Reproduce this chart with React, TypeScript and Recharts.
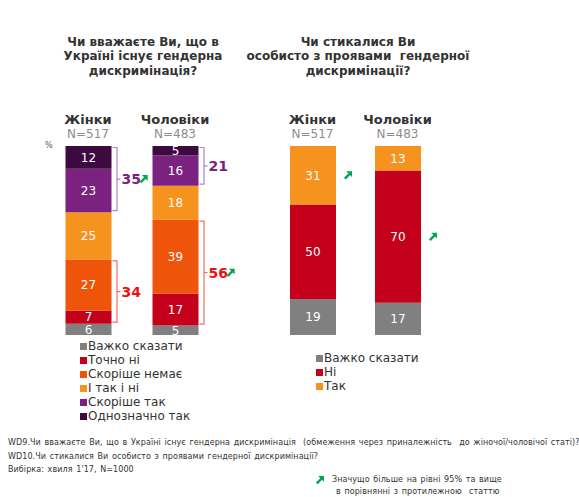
import React from "react";
import { BarChart, Bar, XAxis, YAxis, LabelList, Legend } from "recharts";

// ---------- data ----------
const groups = ["Жінки", "Чоловіки"];
const groupSizes = ["N=517", "N=483"];

const q1Title = ["Чи вважаєте Ви, що в", "Україні існує гендерна", "дискримінація?"];
const q2Title = ["Чи стикалися Ви", "особисто з проявами  гендерної", "дискримінації?"];

const q1Names = ["Важко сказати", "Точно ні", "Скоріше немає", "І так і ні", "Скоріше так", "Однозначно так"];
const q1HardToSay = [6, 5];
const q1DefinitelyNo = [7, 17];
const q1RatherNo = [27, 39];
const q1YesAndNo = [25, 18];
const q1RatherYes = [23, 16];
const q1DefinitelyYes = [12, 5];
const q1YesTotal = [35, 21];
const q1NoTotal = [34, 56];
const q1YesSignificant = [true, false];
const q1NoSignificant = [false, true];

const q2Names = ["Важко сказати", "Ні", "Так"];
const q2HardToSay = [19, 17];
const q2No = [50, 70];
const q2Yes = [31, 13];
const q2YesSignificant = [true, false];
const q2NoSignificant = [false, true];

const footnotes = [
  "WD9.Чи вважаєте Ви, що в Україні існує гендерна дискримінація  (обмеження через приналежність  до жіночої/чоловічої статі)?",
  "WD10.Чи стикалися Ви особисто з проявами гендерної дискримінації?",
  "Вибірка: хвиля 1'17, N=1000",
];
const sigNote = ["Значущо більше на рівні 95% та вище", "в порівнянні з протилежною  статтю"];

// ---------- styles ----------
const COLORS = {
  hard: "#808080",
  defNo: "#c4001a",
  ratherNo: "#ef550a",
  both: "#f6921e",
  ratherYes: "#7b2180",
  defYes: "#3d0a3f",
};
const FONT = "Verdana, 'DejaVu Sans', sans-serif";
const GREEN = "#00a651";

const q1Data = groups.map((g, i) => ({
  group: g,
  hard: q1HardToSay[i],
  defNo: q1DefinitelyNo[i],
  ratherNo: q1RatherNo[i],
  both: q1YesAndNo[i],
  ratherYes: q1RatherYes[i],
  defYes: q1DefinitelyYes[i],
}));

const q2Data = groups.map((g, i) => ({
  group: g,
  hard: q2HardToSay[i],
  no: q2No[i],
  yes: q2Yes[i],
}));

// ---------- pieces ----------
function SigArrow({ x, y }: { x: number; y: number }) {
  return (
    <g transform={`translate(${x},${y - 4})`}>
      <path d="M0.8,7.4 L5.6,2.6" stroke={GREEN} strokeWidth={2.4} />
      <path d="M2.2,0 H8 V5.8 Z" fill={GREEN} />
    </g>
  );
}

function getBox(p: any) {
  const vb = p.viewBox && p.viewBox.width !== undefined ? p.viewBox : p;
  const x = Number(vb.x);
  const w = Number(vb.width);
  let y = Number(vb.y);
  let h = Number(vb.height);
  if (h < 0) {
    y = y + h;
    h = -h;
  }
  return { x, y, w, h };
}

function makeBracket(
  segValues: number[],
  totals: number[],
  sig: boolean[],
  from: "top" | "bottom",
  lineColor: string,
  textColor: string
) {
  return (p: any) => {
    const i = p.index;
    if (i === undefined || totals[i] === undefined) return null;
    const { x, y, w, h } = getBox(p);
    const unit = h / segValues[i];
    const span = totals[i] * unit;
    const top = from === "top" ? y : y + h - span;
    const bot = top + span;
    const mid = (top + bot) / 2;
    const bx = x + w;
    const label = String(totals[i]);
    const tw = label.length * 8.6;
    return (
      <g key={`br-${from}-${i}`}>
        <path
          d={`M${bx + 1},${top + 1.5}H${bx + 5.5}V${bot - 1.5}H${bx + 1}M${bx + 5.5},${mid}H${bx + 9}`}
          stroke={lineColor}
          strokeWidth={1.2}
          fill="none"
        />
        <text
          x={bx + 10}
          y={mid + 5}
          fill={textColor}
          fontWeight="bold"
          fontSize={14}
          fontFamily={FONT}
        >
          {label}
        </text>
        {sig[i] ? <SigArrow x={bx + 11 + tw} y={mid} /> : null}
      </g>
    );
  };
}

function makeSideArrow(sig: boolean[]) {
  return (p: any) => {
    const i = p.index;
    if (i === undefined || !sig[i]) return null;
    const { x, y, w, h } = getBox(p);
    return <SigArrow key={`sa-${i}`} x={x + w + 8} y={y + h / 2} />;
  };
}

function GroupTick(props: any) {
  const { x, y, payload } = props;
  const idx = groups.indexOf(payload.value);
  return (
    <g>
      <text x={x} y={y - 22} textAnchor="middle" fontWeight="bold" fontSize={13} fill="#333" fontFamily={FONT}>
        {payload.value}
      </text>
      <text x={x} y={y - 8} textAnchor="middle" fontSize={12} fill="#8c8c8c" fontFamily={FONT}>
        {groupSizes[idx]}
      </text>
    </g>
  );
}

function makeLegend(order: string[]) {
  return (props: any) => {
    const items = [...(props.payload || [])].sort(
      (a: any, b: any) => order.indexOf(a.value) - order.indexOf(b.value)
    );
    return (
      <div style={{ fontFamily: FONT, fontSize: 12, color: "#333" }}>
        {items.map((it: any) => (
          <div key={it.value} style={{ display: "flex", alignItems: "center", height: 14, whiteSpace: "nowrap" }}>
            <span style={{ display: "inline-block", width: 7, height: 7, background: it.color, marginRight: 1 }} />
            <span>{it.value}</span>
          </div>
        ))}
      </div>
    );
  };
}

const valueLabel = { fill: "#fff", fontSize: 12, fontFamily: FONT };

function Title({ lines, cx }: { lines: string[]; cx: number }) {
  return (
    <div
      style={{
        position: "absolute",
        left: cx - 130,
        top: 34.5,
        width: 260,
        textAlign: "center",
        fontFamily: FONT,
        fontWeight: "bold",
        fontSize: 12,
        lineHeight: "14.5px",
        color: "#333",
        whiteSpace: "pre",
      }}
    >
      {lines.map((l) => (
        <div key={l}>{l}</div>
      ))}
    </div>
  );
}

export default function App() {
  return (
    <div
      style={{
        position: "absolute",
        left: 0,
        top: 0,
        width: 579,
        height: 497,
        background: "#fff",
        fontFamily: FONT,
        overflow: "hidden",
      }}
    >
      <Title lines={q1Title} cx={143} />
      <Title lines={q2Title} cx={358} />

      <div style={{ position: "absolute", left: 45, top: 141, fontSize: 8, color: "#555", fontFamily: FONT }}>%</div>

      <div style={{ position: "absolute", left: 0, top: 0 }}>
        <BarChart
          width={290}
          height={430}
          data={q1Data}
          margin={{ top: 116, right: 71.5, bottom: 95, left: 44.5 }}
        >
          <XAxis
            dataKey="group"
            orientation="top"
            height={30}
            axisLine={false}
            tickLine={false}
            tickSize={0}
            tickMargin={0}
            tick={<GroupTick />}
            interval={0}
          />
          <YAxis hide domain={[0, 100]} />
          <Legend
            layout="vertical"
            align="center"
            verticalAlign="middle"
            content={makeLegend(q1Names)}
            wrapperStyle={{ left: 80, top: 339, width: 160 }}
          />
          <Bar dataKey="hard" name={q1Names[0]} stackId="a" fill={COLORS.hard} barSize={46} isAnimationActive={false}>
            <LabelList dataKey="hard" position="center" {...valueLabel} />
          </Bar>
          <Bar dataKey="defNo" name={q1Names[1]} stackId="a" fill={COLORS.defNo} barSize={46} isAnimationActive={false}>
            <LabelList dataKey="defNo" position="center" {...valueLabel} />
            <LabelList
              dataKey="defNo"
              content={makeBracket(q1DefinitelyNo, q1NoTotal, q1NoSignificant, "bottom", "#f26d6d", "#ee1111")}
            />
          </Bar>
          <Bar dataKey="ratherNo" name={q1Names[2]} stackId="a" fill={COLORS.ratherNo} barSize={46} isAnimationActive={false}>
            <LabelList dataKey="ratherNo" position="center" {...valueLabel} />
          </Bar>
          <Bar dataKey="both" name={q1Names[3]} stackId="a" fill={COLORS.both} barSize={46} isAnimationActive={false}>
            <LabelList dataKey="both" position="center" {...valueLabel} />
          </Bar>
          <Bar dataKey="ratherYes" name={q1Names[4]} stackId="a" fill={COLORS.ratherYes} barSize={46} isAnimationActive={false}>
            <LabelList dataKey="ratherYes" position="center" {...valueLabel} />
          </Bar>
          <Bar dataKey="defYes" name={q1Names[5]} stackId="a" fill={COLORS.defYes} barSize={46} isAnimationActive={false}>
            <LabelList dataKey="defYes" position="center" {...valueLabel} />
            <LabelList
              dataKey="defYes"
              content={makeBracket(q1DefinitelyYes, q1YesTotal, q1YesSignificant, "top", "#b283c4", "#7b2180")}
            />
          </Bar>
        </BarChart>
      </div>

      <div style={{ position: "absolute", left: 270, top: 0 }}>
        <BarChart
          width={300}
          height={430}
          data={q2Data}
          margin={{ top: 116, right: 130, bottom: 95, left: 0 }}
        >
          <XAxis
            dataKey="group"
            orientation="top"
            height={30}
            axisLine={false}
            tickLine={false}
            tickSize={0}
            tickMargin={0}
            tick={<GroupTick />}
            interval={0}
          />
          <YAxis hide domain={[0, 100]} />
          <Legend
            layout="vertical"
            align="center"
            verticalAlign="middle"
            content={makeLegend(q2Names)}
            wrapperStyle={{ left: 46, top: 351, width: 140 }}
          />
          <Bar dataKey="hard" name={q2Names[0]} stackId="b" fill={COLORS.hard} barSize={46} isAnimationActive={false}>
            <LabelList dataKey="hard" position="center" {...valueLabel} />
          </Bar>
          <Bar dataKey="no" name={q2Names[1]} stackId="b" fill={COLORS.defNo} barSize={46} isAnimationActive={false}>
            <LabelList dataKey="no" position="center" {...valueLabel} />
            <LabelList dataKey="no" content={makeSideArrow(q2NoSignificant)} />
          </Bar>
          <Bar dataKey="yes" name={q2Names[2]} stackId="b" fill={COLORS.both} barSize={46} isAnimationActive={false}>
            <LabelList dataKey="yes" position="center" {...valueLabel} />
            <LabelList dataKey="yes" content={makeSideArrow(q2YesSignificant)} />
          </Bar>
        </BarChart>
      </div>

      <div
        style={{
          position: "absolute",
          left: 8,
          top: 436,
          fontFamily: FONT,
          fontSize: 8,
          lineHeight: "13.5px",
          letterSpacing: "0.08px",
          wordSpacing: "1px",
          color: "#333",
          whiteSpace: "pre",
        }}
      >
        {footnotes.map((f) => (
          <div key={f}>{f}</div>
        ))}
      </div>

      <svg style={{ position: "absolute", left: 314, top: 474 }} width={12} height={12}>
        <SigArrow x={2} y={6} />
      </svg>
      <div
        style={{
          position: "absolute",
          left: 332,
          top: 474,
          fontFamily: FONT,
          fontSize: 8,
          lineHeight: "12px",
          letterSpacing: "0.08px",
          wordSpacing: "1px",
          color: "#333",
          whiteSpace: "pre",
        }}
      >
        <div>{sigNote[0]}</div>
        <div style={{ paddingLeft: 4 }}>{sigNote[1]}</div>
      </div>
    </div>
  );
}
